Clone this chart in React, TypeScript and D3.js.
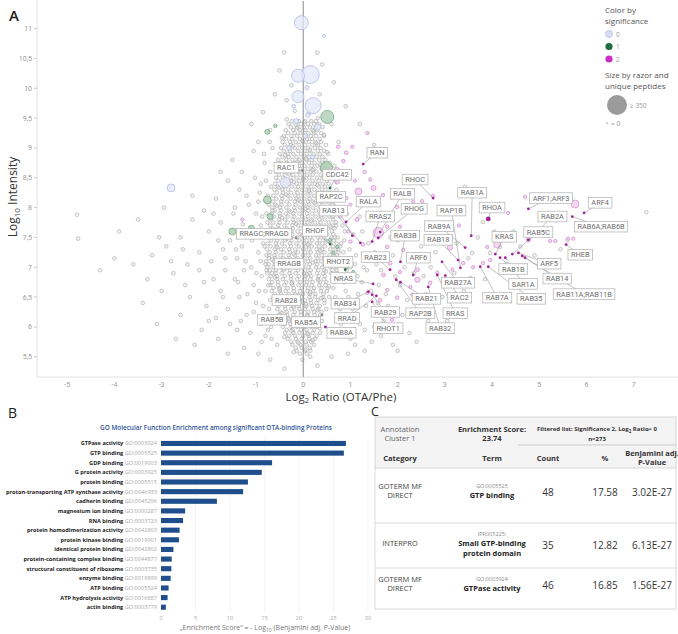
import React from "react";
import * as d3 from "d3";

// ---------- panel A : volcano-like scatter (log2 ratio vs log10 intensity) ----------

// dense part of the cloud, one row per intensity level: [log10 intensity, log2 ratios]
const coreRows: [number, number[]][] = [
  [9.45, [-0.24, -0.09, 0.04, 0.17, 0.27]],
  [9.4, [-0.31, -0.16, -0.05, 0.1, 0.23, 0.33]],
  [9.35, [-0.26, -0.12, 0.01, 0.14, 0.27, 0.41]],
  [9.3, [-0.37, -0.21, -0.07, 0.05, 0.2, 0.3]],
  [9.25, [-0.32, -0.18, -0.06, 0.11, 0.23, 0.38]],
  [9.2, [-0.41, -0.25, -0.13, 0.03, 0.16, 0.27, 0.44]],
  [9.15, [-0.36, -0.23, -0.07, 0.08, 0.19, 0.35]],
  [9.1, [-0.44, -0.28, -0.16, 0.0, 0.12, 0.26, 0.38]],
  [9.05, [-0.39, -0.26, -0.09, 0.04, 0.19, 0.31, 0.48]],
  [9.0, [-0.47, -0.31, -0.18, -0.02, 0.1, 0.25, 0.37]],
  [8.95, [-0.41, -0.28, -0.11, 0.03, 0.15, 0.31, 0.44]],
  [8.9, [-0.5, -0.33, -0.21, -0.05, 0.08, 0.22, 0.35, 0.53]],
  [8.85, [-0.44, -0.31, -0.14, 0.01, 0.12, 0.28, 0.41]],
  [8.8, [-0.53, -0.36, -0.23, -0.08, 0.07, 0.18, 0.34, 0.47]],
  [8.75, [-0.47, -0.34, -0.17, -0.02, 0.12, 0.24, 0.41, 0.56]],
  [8.7, [-0.55, -0.38, -0.25, -0.09, 0.03, 0.18, 0.3, 0.47]],
  [8.65, [-0.49, -0.36, -0.19, -0.06, 0.1, 0.22, 0.39, 0.52]],
  [8.6, [-0.57, -0.4, -0.27, -0.11, 0.02, 0.16, 0.28, 0.45]],
  [8.55, [-0.51, -0.38, -0.21, -0.06, 0.08, 0.2, 0.37, 0.5]],
  [8.5, [-0.58, -0.43, -0.27, -0.14, 0.01, 0.13, 0.29, 0.41, 0.58]],
  [8.45, [-0.53, -0.38, -0.25, -0.08, 0.05, 0.2, 0.33, 0.5]],
  [8.4, [-0.6, -0.43, -0.3, -0.14, -0.02, 0.13, 0.25, 0.41, 0.54]],
  [8.35, [-0.54, -0.41, -0.24, -0.11, 0.05, 0.17, 0.33, 0.46]],
  [8.3, [-0.61, -0.44, -0.32, -0.15, -0.03, 0.12, 0.24, 0.4, 0.53]],
  [8.25, [-0.56, -0.43, -0.26, -0.12, 0.03, 0.15, 0.31, 0.44, 0.61]],
  [8.2, [-0.63, -0.46, -0.33, -0.17, -0.05, 0.11, 0.23, 0.39, 0.51]],
  [8.15, [-0.57, -0.44, -0.27, -0.14, 0.02, 0.14, 0.3, 0.42, 0.59]],
  [8.1, [-0.64, -0.47, -0.35, -0.18, -0.06, 0.1, 0.21, 0.37, 0.5]],
  [8.05, [-0.59, -0.46, -0.29, -0.16, 0.01, 0.12, 0.28, 0.41, 0.58]],
  [8.0, [-0.66, -0.49, -0.36, -0.19, -0.07, 0.09, 0.2, 0.36, 0.49, 0.65]],
  [7.95, [-0.6, -0.47, -0.3, -0.17, -0.01, 0.11, 0.27, 0.39, 0.56]],
  [7.9, [-0.67, -0.5, -0.37, -0.21, -0.08, 0.08, 0.19, 0.35, 0.47, 0.64]],
  [7.85, [-0.62, -0.49, -0.32, -0.19, -0.02, 0.1, 0.26, 0.38, 0.55]],
  [7.8, [-0.69, -0.52, -0.39, -0.22, -0.1, 0.06, 0.18, 0.34, 0.46, 0.63]],
  [7.75, [-0.63, -0.5, -0.33, -0.2, -0.03, 0.09, 0.25, 0.37, 0.54, 0.69]],
  [7.7, [-0.7, -0.53, -0.4, -0.23, -0.11, 0.05, 0.17, 0.33, 0.45, 0.62]],
  [7.65, [-0.65, -0.52, -0.35, -0.22, -0.05, 0.07, 0.23, 0.36, 0.53, 0.66]],
  [7.6, [-0.72, -0.55, -0.42, -0.25, -0.12, 0.04, 0.16, 0.32, 0.44, 0.61]],
  [7.55, [-0.66, -0.53, -0.36, -0.23, -0.06, 0.06, 0.22, 0.34, 0.51, 0.64]],
  [7.5, [-0.73, -0.56, -0.43, -0.26, -0.13, 0.03, 0.15, 0.31, 0.43, 0.6, 0.73]],
  [7.45, [-0.68, -0.55, -0.38, -0.25, -0.08, 0.07, 0.19, 0.35, 0.48, 0.65]],
  [7.4, [-0.75, -0.58, -0.45, -0.28, -0.15, 0.01, 0.13, 0.29, 0.41, 0.58, 0.71]],
  [7.35, [-0.69, -0.56, -0.39, -0.26, -0.09, 0.06, 0.18, 0.34, 0.46, 0.63, 0.78]],
  [7.3, [-0.77, -0.6, -0.47, -0.3, -0.17, 0.0, 0.12, 0.28, 0.4, 0.57, 0.69]],
  [7.25, [-0.71, -0.58, -0.41, -0.28, -0.11, 0.04, 0.16, 0.32, 0.45, 0.62, 0.75]],
  [7.2, [-0.78, -0.61, -0.48, -0.31, -0.18, -0.01, 0.11, 0.27, 0.39, 0.56, 0.71]],
  [7.15, [-0.72, -0.59, -0.42, -0.29, -0.12, 0.03, 0.15, 0.31, 0.44, 0.61, 0.74]],
  [7.1, [-0.79, -0.62, -0.49, -0.32, -0.19, -0.02, 0.1, 0.26, 0.38, 0.55, 0.68]],
  [7.05, [-0.73, -0.6, -0.43, -0.3, -0.13, 0.02, 0.14, 0.3, 0.45, 0.58, 0.75]],
  [7.0, [-0.76, -0.63, -0.46, -0.33, -0.16, -0.01, 0.11, 0.27, 0.4, 0.57, 0.7]],
  [6.95, [-0.71, -0.58, -0.41, -0.28, -0.11, 0.04, 0.16, 0.32, 0.45, 0.62]],
  [6.9, [-0.76, -0.59, -0.46, -0.29, -0.16, 0.01, 0.13, 0.29, 0.42, 0.59, 0.72]],
  [6.85, [-0.69, -0.56, -0.39, -0.26, -0.09, 0.05, 0.17, 0.33, 0.46, 0.63]],
  [6.8, [-0.73, -0.56, -0.43, -0.26, -0.13, 0.03, 0.15, 0.31, 0.44, 0.61]],
  [6.75, [-0.66, -0.53, -0.36, -0.23, -0.06, 0.08, 0.2, 0.36, 0.49, 0.66]],
  [6.7, [-0.7, -0.53, -0.4, -0.23, -0.1, 0.06, 0.18, 0.34, 0.47]],
  [6.65, [-0.63, -0.5, -0.33, -0.2, -0.03, 0.11, 0.23, 0.39, 0.52]],
  [6.6, [-0.67, -0.5, -0.37, -0.2, -0.07, 0.09, 0.21, 0.37, 0.5]],
  [6.55, [-0.6, -0.47, -0.3, -0.17, 0.0, 0.14, 0.26, 0.43]],
  [6.5, [-0.63, -0.46, -0.33, -0.16, -0.03, 0.13, 0.25, 0.42, 0.55]],
  [6.45, [-0.56, -0.43, -0.26, -0.13, 0.04, 0.16, 0.32, 0.45]],
  [6.4, [-0.59, -0.42, -0.29, -0.12, 0.0, 0.16, 0.28, 0.45]],
  [6.35, [-0.52, -0.39, -0.22, -0.09, 0.07, 0.19, 0.35]],
  [6.3, [-0.55, -0.38, -0.25, -0.08, 0.04, 0.2, 0.32, 0.49]],
  [6.25, [-0.48, -0.35, -0.18, -0.05, 0.11, 0.23, 0.39]],
  [6.2, [-0.51, -0.34, -0.21, -0.04, 0.08, 0.24, 0.36]],
  [6.15, [-0.44, -0.31, -0.14, 0.01, 0.13, 0.29]],
  [6.1, [-0.47, -0.3, -0.17, 0.0, 0.12, 0.28, 0.4]],
  [6.05, [-0.4, -0.27, -0.1, 0.05, 0.17, 0.33]],
  [6.0, [-0.43, -0.26, -0.13, 0.04, 0.16, 0.3]],
  [5.95, [-0.35, -0.22, -0.05, 0.07, 0.23]],
  [5.9, [-0.38, -0.21, -0.08, 0.08, 0.2, 0.36]],
  [5.85, [-0.3, -0.17, 0.0, 0.12, 0.28]],
  [5.8, [-0.33, -0.16, -0.03, 0.13, 0.25]],
  [5.75, [-0.25, -0.12, 0.05, 0.17]],
  [5.7, [-0.23, -0.06, 0.07, 0.23]],
  [5.65, [-0.16, -0.03, 0.14]],
  [5.6, [-0.14, 0.03, 0.15]],
  [5.55, [-0.07, 0.08]],
];

// further proteins inside the dense part: [log2 ratio, log10 intensity]
const coreExtra: [number, number][] = [
  [-0.18, 9.62], [0.12, 9.58], [0.31, 9.5], [-0.35, 9.48], [0.02, 9.43], [-0.13, 9.33], [0.22, 9.28],
  [0.44, 9.22], [-0.45, 9.17], [-0.02, 9.12], [0.28, 9.08], [-0.22, 9.03], [0.14, 8.97], [0.5, 8.93],
  [-0.38, 8.88], [0.06, 8.82], [-0.12, 8.77], [0.36, 8.72], [-0.46, 8.68], [0.2, 8.63], [-0.3, 8.57],
  [0.55, 8.52], [0.0, 8.48], [-0.2, 8.43], [0.3, 8.38], [-0.52, 8.33], [0.12, 8.28], [-0.36, 8.22],
  [0.46, 8.18], [-0.1, 8.13], [0.24, 8.08], [-0.56, 8.03], [0.05, 7.98], [-0.27, 7.93], [0.4, 7.88],
  [-0.45, 7.83], [0.16, 7.78], [-0.15, 7.73], [0.58, 7.68], [-0.6, 7.63], [0.28, 7.58], [-0.02, 7.53],
  [-0.35, 7.48], [0.5, 7.43], [0.1, 7.38], [-0.55, 7.33], [0.36, 7.28], [-0.2, 7.23], [0.66, 7.18],
  [-0.66, 7.13], [0.2, 7.08], [-0.05, 7.03], [-0.42, 6.98], [0.48, 6.93], [0.08, 6.88], [-0.6, 6.83],
  [0.32, 6.78], [-0.25, 6.73], [0.55, 6.68], [-0.5, 6.63], [0.15, 6.58], [-0.1, 6.53], [0.38, 6.48],
  [-0.4, 6.43], [0.06, 6.38], [-0.2, 6.33], [0.3, 6.28], [-0.45, 6.23], [0.1, 6.18], [-0.3, 6.13],
  [0.22, 6.08], [-0.05, 6.03], [0.35, 5.98], [-0.25, 5.93], [0.1, 5.88], [-0.4, 5.83], [0.2, 5.78],
  [-0.1, 5.73], [0.05, 5.62], [-0.2, 5.58], [0.15, 5.5], [-0.02, 5.45], [-0.35, 9.8], [0.35, 9.9],
  [-0.25, 10.05], [0.4, 10.4], [-0.4, 10.6], [0.3, 10.6],
];

// scattered non-significant proteins around the dense part: [log2 ratio, log10 intensity]
const grayPoints: [number, number][] = [
  [-4.79, 7.88], [-4.77, 7.48], [-4.3, 6.95], [-4.0, 7.15], [-3.9, 7.6], [-3.6, 7.05], [-3.5, 7.8],
  [-3.4, 6.4], [-3.2, 7.2], [-3.05, 7.5], [-3.0, 6.6], [-2.95, 8.0], [-2.9, 7.35], [-2.75, 6.9],
  [-2.6, 7.5], [-2.6, 6.2], [-2.45, 7.05], [-2.4, 6.5], [-2.35, 7.8], [-2.3, 5.7], [-2.2, 7.25],
  [-2.1, 7.95], [-2.1, 6.75], [-2.0, 6.1], [-1.95, 7.1], [-1.85, 8.15], [-1.8, 5.8], [-1.75, 7.75],
  [-1.75, 6.6], [-1.7, 7.3], [-1.65, 6.95], [-1.6, 8.45], [-1.6, 6.3], [-1.55, 7.45], [-1.5, 8.8],
  [-1.45, 8.0], [-1.45, 6.8], [-1.4, 5.95], [-1.4, 7.15], [-1.35, 6.5], [-1.3, 8.6], [-1.3, 7.35],
  [-1.25, 5.65], [-1.25, 6.95], [-1.2, 8.2], [-1.2, 6.2], [-1.15, 7.55], [-1.1, 9.4], [-1.1, 7.0],
  [-1.05, 8.95], [-1.05, 6.7], [-1.0, 7.9], [-1.0, 6.4], [-0.95, 9.1], [-0.95, 5.55], [-0.95, 7.25],
  [-0.9, 8.4], [-0.9, 6.05], [-0.88, 6.85], [-0.85, 9.6], [-0.85, 7.6], [-0.82, 8.75], [-0.8, 5.85],
  [-0.8, 7.05], [-0.7, 5.45], [-0.7, 9.3], [-0.6, 9.9], [-0.55, 5.7], [-0.75, 8.2], [-0.78, 7.9],
  [-0.85, 7.4], [-0.8, 6.6], [-0.72, 6.3], [-0.7, 8.6], [-0.65, 9.0], [-0.68, 6.0], [-0.9, 7.7],
  [-0.95, 8.1], [-1.6, 5.55], [-0.4, 5.3], [0.3, 5.35], [0.6, 5.5], [-2.7, 5.8], [-3.1, 6.05],
  [0.62, 8.05], [0.7, 7.7], [0.8, 7.4], [0.65, 7.1], [0.75, 6.8], [0.85, 7.25], [0.92, 6.95],
  [0.68, 6.5], [0.78, 6.3], [0.88, 7.6], [1.0, 7.0], [0.7, 8.3], [0.82, 8.0], [0.66, 8.7],
  [0.75, 9.1], [0.6, 9.4], [0.7, 6.15], [0.75, 5.95], [0.9, 6.6], [0.95, 7.15], [1.0, 5.8],
  [1.05, 6.3], [1.1, 7.05], [1.15, 6.85], [1.2, 6.05], [1.25, 7.6], [1.3, 5.6], [1.35, 6.95],
  [1.4, 7.2], [1.5, 6.0], [1.55, 7.05], [1.6, 6.7], [1.65, 5.85], [1.7, 7.15], [1.8, 6.35],
  [1.85, 7.5], [1.9, 5.7], [1.95, 6.85], [2.0, 7.45], [2.1, 6.2], [2.15, 7.0], [2.25, 5.9],
  [2.3, 7.2], [2.45, 6.4], [2.5, 7.35], [2.55, 6.85], [2.65, 6.1], [2.7, 7.0], [2.8, 7.25],
  [2.95, 6.5], [3.0, 7.75], [3.05, 6.1], [3.2, 6.9], [3.25, 7.4], [3.4, 6.6], [3.43, 8.35],
  [3.5, 7.15], [3.58, 7.24], [3.7, 7.5], [3.81, 7.76], [3.85, 6.8], [3.96, 7.24], [4.05, 7.6],
  [4.17, 7.34], [4.3, 7.05], [4.45, 7.6], [4.6, 7.35], [4.9, 7.2], [5.1, 7.55], [5.45, 7.3],
  [5.6, 7.45], [7.27, 7.92], [2.6, 8.5], [1.5, 9.05], [1.2, 9.4], [0.9, 9.7], [0.65, 10.1],
  [-0.5, 10.3], [2.0, 5.6], [2.4, 5.75],
  // left halo
  [-1.48, 7.9], [-1.42, 7.3], [-1.38, 6.75], [-1.35, 8.3], [-1.32, 6.1], [-1.28, 7.72], [-1.22, 7.1],
  [-1.18, 6.55], [-1.15, 8.05], [-1.12, 5.9], [-1.08, 7.45], [-1.05, 6.25], [-1.02, 8.5], [-0.99, 6.9],
  [-0.97, 7.62], [-0.94, 6.6], [-0.92, 8.25], [-0.9, 7.1], [-0.88, 5.75], [-0.87, 7.85], [-0.85, 6.35],
  [-0.83, 8.9], [-0.82, 7.35], [-0.8, 6.15], [-0.79, 8.45], [-0.78, 6.95], [-0.76, 7.75], [-0.75, 5.95],
  [-0.74, 6.7], [-0.73, 8.05], [-0.72, 7.2], [-0.71, 9.1], [-0.7, 6.45], [-0.69, 7.55], [-0.68, 8.35],
  [-0.67, 5.8], [-0.66, 6.9], [-0.65, 7.95], [-1.65, 7.15], [-1.7, 6.5], [-1.8, 7.45], [-1.9, 6.8],
  [-2.0, 7.6], [-2.05, 6.35], [-1.55, 6.05], [-1.9, 7.9], [-2.2, 6.95], [-2.5, 6.7], [-2.55, 7.3],
  [-1.85, 6.15], [-2.15, 5.95], [-2.8, 7.1], [-3.3, 6.8], [-2.35, 8.2], [-1.75, 8.6],
  // right halo
  [0.63, 7.85], [0.64, 6.65], [0.67, 7.5], [0.69, 8.45], [0.71, 6.95], [0.72, 5.85], [0.74, 7.3],
  [0.76, 8.15], [0.77, 6.45], [0.79, 7.05], [0.8, 6.05], [0.83, 7.7], [0.84, 8.6], [0.86, 6.75],
  [0.87, 7.45], [0.9, 6.2], [0.93, 7.9], [0.96, 6.5], [0.98, 7.3], [1.02, 6.8], [1.06, 7.55],
  [1.08, 6.1], [1.12, 7.2], [1.16, 6.55], [1.2, 7.85], [1.24, 6.75], [1.28, 7.0], [1.33, 6.35],
  [1.38, 7.4], [1.44, 6.6], [1.52, 7.25], [1.58, 6.4], [1.65, 6.95], [1.75, 6.55], [1.9, 7.2],
  [2.05, 6.7], [2.2, 6.45], [1.3, 5.95], [1.1, 5.7], [0.95, 5.55], [0.85, 5.9], [1.45, 5.75],
  [1.7, 6.1], [2.35, 6.9], [2.6, 6.55],
];

// coloured proteins: [log2 ratio, log10 intensity, razor + unique peptides, significance]
const bubbles: [number, number, number, number][] = [
  [-0.04, 11.1, 159, 0], [0.44, 10.88, 2, 0], [-0.11, 10.21, 135, 0], [0.15, 10.23, 278, 0],
  [-0.11, 9.86, 112, 0], [0.21, 9.71, 215, 0], [0.08, 10.01, 6, 0], [-0.15, 9.45, 12, 0],
  [0.3, 9.35, 25, 0], [0.05, 9.2, 10, 0], [-0.3, 9.0, 12, 0], [0.2, 8.85, 8, 0],
  [-0.38, 8.42, 75, 0], [-2.8, 8.33, 40, 0], [0.1, 9.55, 8, 0], [-0.2, 9.7, 5, 0],
  [0.51, 9.52, 135, 1], [-0.76, 9.27, 12, 1], [0.49, 8.67, 112, 1], [-0.76, 8.13, 40, 1],
  [-0.7, 7.85, 20, 1], [-1.5, 7.6, 30, 1], [-1.1, 7.65, 22, 1], [-0.59, 9.37, 3, 1],
  [0.57, 7.46, 3, 1], [0.64, 7.24, 3, 1], [0.93, 7.0, 3, 1], [1.06, 6.92, 3, 1], [0.72, 7.34, 3, 1],
  [0.91, 8.92, 5, 2], [0.85, 8.78, 4, 2], [1.04, 9.02, 3, 2], [0.72, 8.43, 8, 2], [1.42, 8.47, 3, 2],
  [1.49, 8.33, 12, 2], [1.17, 8.27, 30, 2], [0.91, 8.16, 4, 2], [1.0, 8.05, 3, 2], [1.36, 8.15, 5, 2],
  [1.69, 8.21, 3, 2], [1.99, 8.18, 4, 2], [2.33, 8.1, 3, 2], [2.52, 8.11, 3, 2], [1.99, 8.01, 4, 2],
  [1.78, 7.68, 4, 2], [2.05, 7.68, 3, 2], [1.59, 7.58, 80, 2], [1.14, 7.8, 5, 2], [1.0, 7.43, 4, 2],
  [0.78, 7.85, 3, 2], [0.72, 8.63, 12, 2], [1.36, 9.25, 3, 2], [0.74, 9.02, 4, 2], [1.27, 7.38, 4, 2],
  [1.78, 7.34, 5, 2], [2.12, 7.29, 3, 2], [1.84, 7.07, 6, 2], [2.05, 6.92, 3, 2], [2.42, 6.96, 5, 2],
  [2.84, 6.91, 3, 2], [2.69, 6.74, 4, 2], [2.27, 6.67, 3, 2], [1.78, 6.62, 3, 2], [1.63, 6.45, 4, 2],
  [1.36, 6.57, 3, 2], [2.42, 6.79, 14, 2], [2.31, 6.54, 3, 2], [1.99, 6.49, 4, 2], [3.16, 6.96, 3, 2],
  [3.39, 7.07, 4, 2], [3.54, 6.82, 3, 2], [3.81, 7.07, 3, 2], [3.9, 7.34, 3, 2], [1.7, 6.87, 5, 2],
  [1.48, 6.29, 3, 2], [2.42, 6.17, 3, 2], [1.88, 6.12, 3, 2], [4.7, 8.18, 3, 2], [4.34, 7.91, 3, 2],
  [5.76, 8.06, 40, 2], [4.11, 7.38, 30, 2], [5.23, 7.44, 3, 2], [5.34, 7.44, 3, 2], [5.61, 7.48, 3, 2],
  [5.72, 7.48, 3, 2], [4.77, 7.46, 8, 2], [3.11, 7.33, 14, 2], [3.96, 7.12, 3, 2], [3.6, 7.0, 3, 2],
  [1.3, 8.6, 4, 2], [1.1, 8.45, 3, 2], [0.95, 7.6, 3, 2], [1.45, 7.9, 3, 2], [2.2, 7.55, 3, 2],
  [2.6, 7.2, 3, 2], [2.9, 7.5, 3, 2], [3.3, 7.7, 3, 2], [2.75, 8.2, 3, 2], [3.5, 8.2, 3, 2],
  [-1.29, 7.8, 3, 2],
];

// annotated proteins: [gene, log2 ratio, log10 intensity, label x, label y, significance]
const labeled: [string, number, number, number, number, number][] = [
  ["RAN", 1.27, 8.73, 1.57, 8.92, 2],
  ["RAC1", -0.02, 8.62, -0.36, 8.67, 0],
  ["CDC42", 0.57, 8.33, 0.72, 8.55, 1],
  ["RHOC", 2.75, 8.16, 2.37, 8.47, 2],
  ["RALB", 1.63, 7.59, 2.1, 8.23, 2],
  ["RAP2C", 1.04, 7.53, 0.59, 8.18, 2],
  ["RALA", 0.91, 7.76, 1.38, 8.1, 2],
  ["RHOG", 1.59, 7.49, 2.35, 7.98, 2],
  ["RAB13", 1.21, 7.41, 0.64, 7.95, 2],
  ["RRAS2", 1.46, 7.43, 1.63, 7.85, 2],
  ["RHOF", 0.57, 7.39, 0.25, 7.61, 1],
  ["RRAGC;RRAGD", -0.15, 7.49, -0.83, 7.56, 0],
  ["RAB9A", 3.43, 7.33, 2.88, 7.69, 2],
  ["RAB3B", 2.06, 7.09, 2.16, 7.53, 2],
  ["RAB18", 3.28, 7.12, 2.86, 7.46, 2],
  ["RAP1B", 3.33, 6.99, 3.14, 7.95, 2],
  ["RAB1A", 3.56, 7.53, 3.58, 8.25, 2],
  ["RHOA", 3.92, 7.81, 4.0, 8.0, 2],
  ["ARF1;ARF3", 4.77, 7.98, 5.25, 8.16, 2],
  ["ARF4", 5.95, 7.91, 6.29, 8.08, 2],
  ["RAB2A", 4.77, 7.46, 5.28, 7.85, 2],
  ["RAB6A;RAB6B", 5.7, 7.85, 6.31, 7.68, 2],
  ["KRAS", 4.07, 7.22, 4.26, 7.51, 2],
  ["RAB5C", 4.43, 7.22, 4.98, 7.59, 2],
  ["RHEB", 5.57, 7.38, 5.87, 7.21, 2],
  ["ARF5", 4.56, 7.24, 5.21, 7.06, 2],
  ["RAB1B", 4.17, 7.16, 4.45, 6.97, 2],
  ["RAB14", 4.64, 7.19, 5.38, 6.81, 2],
  ["SAR1A", 4.28, 7.16, 4.66, 6.72, 2],
  ["RAB11A;RAB11B", 4.7, 7.16, 5.95, 6.55, 2],
  ["RAB27A", 2.94, 7.09, 3.28, 6.74, 2],
  ["RAC2", 3.01, 6.86, 3.31, 6.49, 2],
  ["RAB7A", 3.75, 7.01, 4.11, 6.49, 2],
  ["RAB35", 3.92, 7.01, 4.83, 6.47, 2],
  ["RRAS", 2.84, 6.87, 3.22, 6.23, 2],
  ["ARF6", 2.33, 6.87, 2.44, 7.16, 2],
  ["RAB23", 1.84, 6.96, 1.53, 7.17, 2],
  ["RHOT2", 0.89, 6.96, 0.74, 7.09, 1],
  ["RRAGB", -0.06, 7.09, -0.3, 7.06, 0],
  ["NRAS", 1.48, 6.72, 0.85, 6.82, 2],
  ["RAB21", 2.06, 6.75, 2.61, 6.47, 2],
  ["RAP2B", 1.97, 6.79, 2.48, 6.23, 2],
  ["RAB32", 2.65, 6.67, 2.9, 5.98, 2],
  ["RAB29", 1.46, 6.54, 1.74, 6.25, 2],
  ["RAB34", 1.38, 6.59, 0.89, 6.39, 2],
  ["RRAD", 1.55, 6.52, 0.93, 6.15, 2],
  ["RHOT1", 1.46, 6.42, 1.8, 5.98, 2],
  ["RAB28", -0.06, 6.45, -0.36, 6.45, 0],
  ["RAB5B", -0.38, 6.15, -0.66, 6.12, 0],
  ["RAB5A", 0.4, 6.2, 0.06, 6.08, 0],
  ["RAB8A", 0.47, 6.0, 0.81, 5.9, 2],
];

const xTicksA = [-5, -4, -3, -2, -1, 0, 1, 2, 3, 4, 5, 6, 7];
const yTicksA = [5.5, 6, 6.5, 7, 7.5, 8, 8.5, 9, 9.5, 10, 10.5, 11];
const sigLevels = [0, 1, 2];

// ---------- panel B : GO enrichment bars ----------
const goNames = [
  "GTPase activity", "GTP binding", "GDP binding", "G protein activity", "protein binding",
  "proton-transporting ATP synthase activity", "cadherin binding", "magnesium ion binding",
  "RNA binding", "protein homodimerization activity", "protein kinase binding",
  "identical protein binding", "protein-containing complex binding",
  "structural constituent of ribosome", "enzyme binding", "ATP binding",
  "ATP hydrolysis activity", "actin binding",
];
const goIds = [
  "GO:0003924", "GO:0005525", "GO:0019003", "GO:0003925", "GO:0005515", "GO:0046933",
  "GO:0045296", "GO:0000287", "GO:0003723", "GO:0042803", "GO:0019901", "GO:0042802",
  "GO:0044877", "GO:0003735", "GO:0019899", "GO:0005524", "GO:0016887", "GO:0003779",
];
const goScores = [26.8, 26.5, 16.1, 14.6, 12.6, 11.9, 8.1, 3.5, 3.2, 2.7, 2.6, 1.8, 1.55, 1.5, 1.4, 1.1, 0.95, 0.7];
const xTicksB = [0, 5, 10, 15, 20, 25, 30];

// ---------- panel C : annotation cluster table ----------
const tableCategories = [["GOTERM MF", "DIRECT"], ["INTERPRO"], ["GOTERM MF", "DIRECT"]];
const tableIds = ["GO:0005525", "IPR005225:", "GO:0003924"];
const tableTerms = [["GTP binding"], ["Small GTP-binding", "protein domain"], ["GTPase activity"]];
const tableCounts = [48, 35, 46];
const tablePercents = ["17.58", "12.82", "16.85"];
const tablePValues = ["3.02E-27", "6.13E-27", "1.56E-27"];

const sigFill = ["#e3e8f8", "#a9cbb0", "#f1c9ee"];
const sigStroke = ["#b2bce2", "#74a981", "#d393d2"];
const legendFill = ["#d7ddf4", "#1f6e3d", "#cb2ec4"];

let ctx: CanvasRenderingContext2D | null = null;
function textWidth(s: string, font: string) {
  if (!ctx) ctx = document.createElement("canvas").getContext("2d");
  if (!ctx) return s.length * 4.5;
  ctx.font = font;
  return ctx.measureText(s).width;
}

const App = () => {
  const W = 678, H = 634;
  const x = d3.scaleLinear().domain([-5.64, 7.94]).range([37, 678]);
  const y = d3.scaleLinear().domain([5.16, 11.48]).range([377, 0]);
  const r = d3.scaleSqrt().domain([0, 350]).range([0.8, 10]).clamp(true);
  const grayR = r(4.5);

  const labelFont = "7.4px Roboto";
  const sortedBubbles = [...bubbles].sort((a, b) => b[2] - a[2]);
  const cloud: [number, number][] = [
    ...coreRows.flatMap(([yy, xs]) => xs.map(xx => [xx, yy] as [number, number])),
    ...coreExtra,
    ...grayPoints,
  ];

  const xB = d3.scaleLinear().domain([0, 30]).range([161, 368]);
  const yB = d3.scaleBand<string>().domain(goNames).range([438.7, 612]).paddingInner(0.47).paddingOuter(0.23);

  const rowTop = [468, 523, 568];
  const rowBottom = [523, 568, 609];
  const colX = { cat: 400, term: 492, count: 548, pct: 605, p: 652 };
  const tl = 375, tr = 676;

  return (
    <svg width={W} height={H} style={{ position: "absolute", left: 0, top: 0, background: "#fff" }}
      fontFamily="Roboto, 'Open Sans', sans-serif">
      <rect width={W} height={H} fill="#fff" />

      {/* ---------- A ---------- */}
      <text x={9} y={21} fontSize={15} fontFamily="'Open Sans'" fontWeight={600} fill="#222">A</text>
      <line x1={37} x2={37} y1={0} y2={377} stroke="#e2e2e2" />
      <line x1={37} x2={678} y1={377} y2={377} stroke="#e2e2e2" />
      {yTicksA.map(t => (
        <g key={t}>
          <line x1={34} x2={37} y1={y(t)} y2={y(t)} stroke="#ccc" />
          <text x={32} y={y(t) + 2.5} fontSize={7} fill="#9a9a9a" textAnchor="end">
            {String(t).replace(".", ",")}
          </text>
        </g>
      ))}
      {xTicksA.map(t => (
        <text key={t} x={x(t)} y={386.5} fontSize={7} fill="#9a9a9a" textAnchor="middle">{t}</text>
      ))}
      <text transform={`translate(17,197) rotate(-90)`} textAnchor="middle" fontSize={12}
        fontFamily="'Open Sans'" fill="#333">
        Log<tspan fontSize={8} dy={3}>10</tspan><tspan dy={-3}> Intensity</tspan>
      </text>
      <text x={341} y={400.5} textAnchor="middle" fontSize={11.5} fontFamily="'Open Sans'" fill="#333">
        Log<tspan fontSize={7.5} dy={2.5}>2</tspan><tspan dy={-2.5}> Ratio (OTA/Phe)</tspan>
      </text>

      {/* cloud of quantified proteins */}
      <g fill="#e4e4e4" fillOpacity={0.45} stroke="#a2a2a2" strokeWidth={0.55}>
        {cloud.map(([xx, yy], i) => <circle key={`g${i}`} cx={x(xx)} cy={y(yy)} r={grayR} />)}
      </g>
      <line x1={x(0)} x2={x(0)} y1={1} y2={377} stroke="#8a8a8a" strokeWidth={1} />
      <g strokeWidth={0.8}>
        {sortedBubbles.map(([xx, yy, pep, s], i) => (
          <circle key={`b${i}`} cx={x(xx)} cy={y(yy)} r={r(pep)} fill={sigFill[s]} fillOpacity={0.75}
            stroke={sigStroke[s]} />
        ))}
      </g>

      {/* annotated proteins */}
      <g stroke="#9a9a9a" strokeWidth={0.6}>
        {labeled.map(([n, px, py, lx, ly]) => (
          <line key={`l${n}`} x1={x(px)} y1={y(py)} x2={x(lx)} y2={y(ly)} />
        ))}
      </g>
      {labeled.map(([n, px, py, , , s]) => (
        <circle key={`p${n}`} cx={x(px)} cy={y(py)} r={n === "RHOA" ? 2.4 : 1.4}
          fill={s === 2 ? "#a1229a" : s === 1 ? "#2f6e45" : "#8d8d8d"} />
      ))}
      {labeled.map(([n, , , lx, ly]) => {
        const w = textWidth(n, labelFont) + 6;
        return (
          <g key={`t${n}`} transform={`translate(${x(lx)},${y(ly)})`}>
            <rect x={-w / 2} y={-5.3} width={w} height={10.6} fill="#fff" stroke="#b9b9b9" strokeWidth={0.8} />
            <text y={2.6} textAnchor="middle" fontSize={7.4} fill="#6e6e6e">{n}</text>
          </g>
        );
      })}

      {/* legend */}
      <g fontSize={8} fill="#555" fontFamily="'Open Sans'">
        <text x={605} y={13}>Color by</text>
        <text x={605} y={23.5}>significance</text>
        {sigLevels.map((s, i) => (
          <g key={s}>
            <circle cx={609} cy={34 + i * 12.5} r={3.6} fill={legendFill[s]} stroke={s === 0 ? "#a9b3dc" : "none"} strokeWidth={0.6} />
            <text x={616} y={36.5 + i * 12.5} fontSize={6.5} fill="#999">{s}</text>
          </g>
        ))}
        <text x={605} y={78}>Size by razor and</text>
        <text x={605} y={88.5}>unique peptides</text>
        <circle cx={617} cy={105} r={r(350)} fill="#9b9b9b" />
        <text x={630} y={107.5} fontSize={6.5} fill="#999">≥ 350</text>
        <circle cx={607} cy={123} r={r(0)} fill="#9b9b9b" />
        <text x={611} y={125.5} fontSize={6.5} fill="#999">= 0</text>
      </g>

      {/* ---------- B ---------- */}
      <text x={8} y={418} fontSize={14} fontFamily="'Open Sans'" fill="#222">B</text>
      <text x={216} y={430} textAnchor="middle" fontSize={6.4} fontWeight={600} fontFamily="'Open Sans'" fill="#2f5597">
        GO Molecular Function Enrichment among significant OTA-binding Proteins
      </text>
      {xTicksB.slice(1).map(t => (
        <line key={t} x1={xB(t)} x2={xB(t)} y1={438} y2={612} stroke="#ececec" strokeWidth={0.6} />
      ))}
      {goNames.map((n, i) => (
        <g key={n}>
          <rect x={xB(0)} y={yB(n)} width={xB(goScores[i]) - xB(0)} height={yB.bandwidth()} fill="#1f4e8c" />
          <text x={157} y={(yB(n) ?? 0) + yB.bandwidth() / 2 + 2} textAnchor="end" fontSize={5.6}
            fontFamily="'Open Sans'">
            <tspan fontWeight={700} fill="#222">{n}</tspan>
            <tspan fill="#a8a8a8"> {goIds[i]}</tspan>
          </text>
        </g>
      ))}
      {xTicksB.map(t => (
        <text key={t} x={xB(t)} y={620} textAnchor="middle" fontSize={5.6} fill="#aaa" fontFamily="'Open Sans'">{t}</text>
      ))}
      <text x={265} y={630} textAnchor="middle" fontSize={7} fill="#777" fontFamily="'Open Sans'">
        „Enrichment Score“ = - Log<tspan fontSize={5} dy={2}>10</tspan><tspan dy={-2}> (Benjamini adj. P-Value)</tspan>
      </text>

      {/* ---------- C ---------- */}
      <text x={371} y={416} fontSize={12.5} fontFamily="'Open Sans'" fill="#222">C</text>
      <g fontFamily="'Open Sans'">
        <rect x={tl} y={417} width={tr - tl} height={468 - 417} fill="#f4f4f4" />
        <rect x={tl} y={417} width={tr - tl} height={609 - 417} fill="none" stroke="#cfcfcf" strokeWidth={0.8} />
        <line x1={518} x2={tr} y1={445} y2={445} stroke="#bbb" strokeWidth={0.7} />
        {[468, ...rowBottom.slice(0, 2)].map(v => (
          <line key={v} x1={tl} x2={tr} y1={v} y2={v} stroke="#cfcfcf" strokeWidth={0.8} />
        ))}
        <g textAnchor="middle">
          <text x={colX.cat} y={432} fontSize={7.5} fill="#666">Annotation</text>
          <text x={colX.cat} y={441} fontSize={7.5} fill="#666">Cluster 1</text>
          <text x={colX.term} y={432} fontSize={7.5} fontWeight={700} fill="#333">Enrichment Score:</text>
          <text x={colX.term} y={441} fontSize={7.5} fontWeight={700} fill="#333">23.74</text>
          <text x={597} y={431} fontSize={6} fontWeight={700} fill="#333">
            Filtered list: Significance 2, Log<tspan fontSize={4.5} dy={1.5}>2</tspan><tspan dy={-1.5}> Ratio&gt; 0</tspan>
          </text>
          <text x={597} y={440.5} fontSize={6} fontWeight={700} fill="#333">n=273</text>
          <text x={colX.cat} y={461} fontSize={7.5} fontWeight={700} fill="#333">Category</text>
          <text x={colX.term} y={461} fontSize={7.5} fontWeight={700} fill="#333">Term</text>
          <text x={colX.count} y={461} fontSize={7.5} fontWeight={700} fill="#333">Count</text>
          <text x={colX.pct} y={461} fontSize={7.5} fontWeight={700} fill="#333">%</text>
          <text x={colX.p} y={456} fontSize={7.5} fontWeight={700} fill="#333">Benjamini adj.</text>
          <text x={colX.p} y={465} fontSize={7.5} fontWeight={700} fill="#333">P-Value</text>
          {tableCounts.map((c, i) => {
            const mid = rowTop[i] + (rowBottom[i] - rowTop[i]) / 2 - 5 + (i === 1 ? 3 : 0);
            const termLines = [tableIds[i], ...tableTerms[i]];
            return (
              <g key={i}>
                {tableCategories[i].map((t, j) => (
                  <text key={j} x={colX.cat} y={mid + 2.7 + (j - (tableCategories[i].length - 1) / 2) * 9.3}
                    fontSize={7.5} fill="#444">{t}</text>
                ))}
                {termLines.map((t, j) => (
                  <text key={j} x={colX.term} y={mid + 2.7 + (j - (termLines.length - 1) / 2) * 9.8}
                    fontSize={j === 0 ? 5.5 : 7.5} fontWeight={j === 0 ? 400 : 700} fill={j === 0 ? "#8a8a8a" : "#222"}>{t}</text>
                ))}
                <text x={colX.count} y={mid + 5} fontSize={10} fill="#333">{c}</text>
                <text x={colX.pct} y={mid + 5} fontSize={10} fill="#333">{tablePercents[i]}</text>
                <text x={colX.p} y={mid + 5} fontSize={10} fill="#333">{tablePValues[i]}</text>
              </g>
            );
          })}
        </g>
      </g>
    </svg>
  );
};

export default App;
